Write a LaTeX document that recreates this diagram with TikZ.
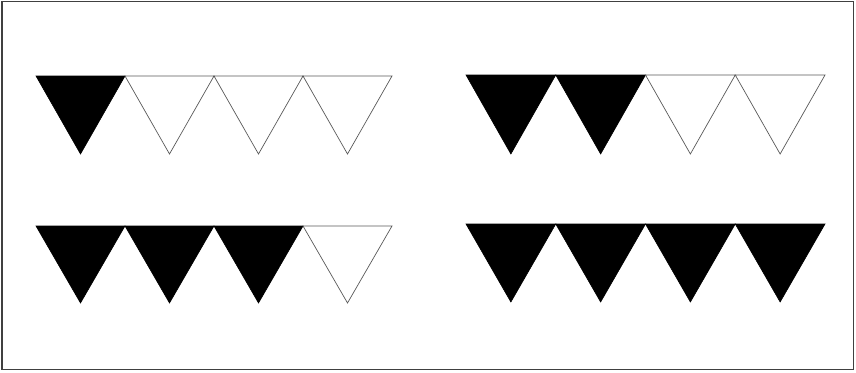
\documentclass[tikz,border=0pt]{standalone}
\begin{document}
\begin{tikzpicture}[x=1pt,y=-1pt,
  frame/.style={draw=black!75,line width=1.2pt},
  fulltri/.style={fill=black,draw=black,line width=0.6pt,line join=miter},
  emptytri/.style={fill=white,draw=black!65,line width=0.7pt,line join=miter},
  topline/.style={draw=black!55,line width=1pt}]
\useasboundingbox (0,0) rectangle (856,372);
\draw[frame] (2,1.5) rectangle (853.5,369.5);
% rows: {x0, y0, w, h, number filled}
\foreach \xo/\yo/\w/\h/\n in {36/76/89/78/1, 466/75/89.75/79/2, 36/226/89/77/3, 466/224/89.75/78/4}{
  \draw[topline] (\xo,\yo) -- ++(4*\w,0);
  \foreach \i in {1,...,4}{
    \pgfmathsetmacro{\xa}{\xo+(\i-1)*\w}
    \ifnum\i>\n
      \draw[emptytri] (\xa,\yo) -- ++(\w,0) -- ++(-\w/2,\h) -- cycle;
    \else
      \draw[fulltri] (\xa,\yo) -- ++(\w,0) -- ++(-\w/2,\h) -- cycle;
    \fi
  }
}
\end{tikzpicture}
\end{document}
